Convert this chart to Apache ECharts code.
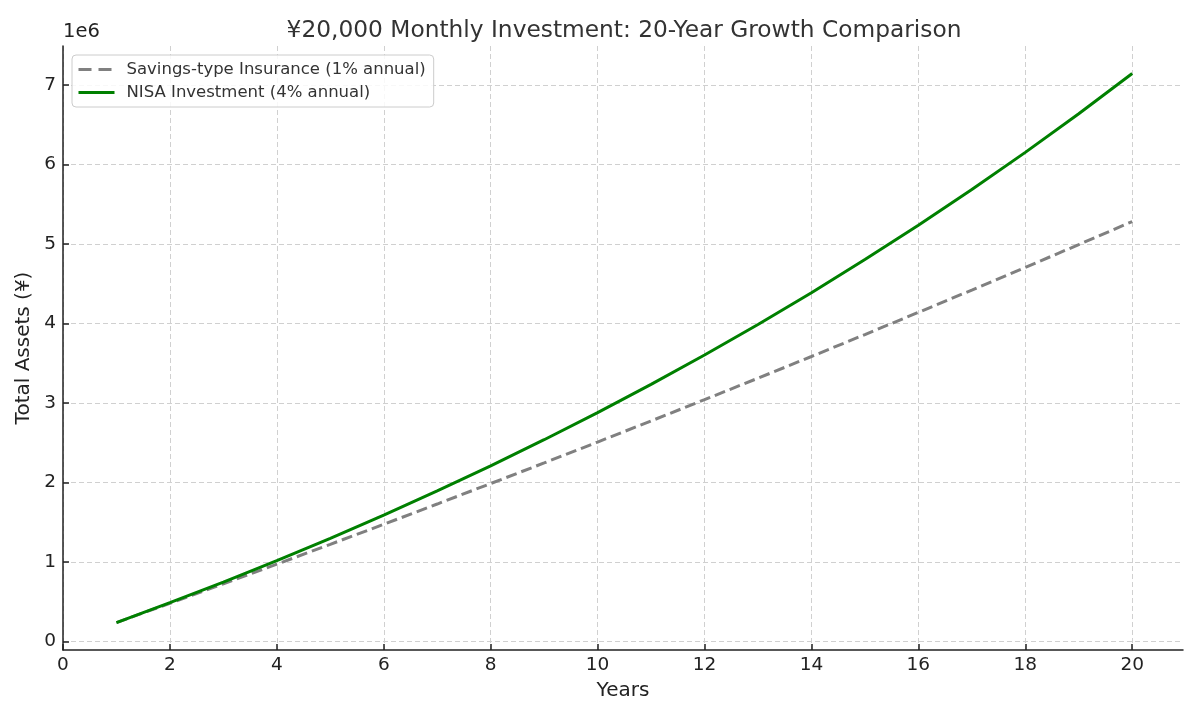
<!DOCTYPE html>
<html>
<head>
<meta charset="utf-8">
<script src="https://cdn.jsdelivr.net/npm/echarts@6/dist/echarts.min.js"></script>
<style>
html,body{margin:0;padding:0;background:#fff;}
#chart{width:1200px;height:720px;}
</style>
</head>
<body>
<div id="chart"></div>
<script>
const titleText = '¥20,000 Monthly Investment: 20-Year Growth Comparison';
const years = [1,2,3,4,5,6,7,8,9,10,11,12,13,14,15,16,17,18,19,20];
const savingsName = 'Savings-type Insurance (1% annual)';
const nisaName = 'NISA Investment (4% annual)';
const savings = [240000,482000,727000,974000,1224000,1476000,1731000,1989000,2248000,2511000,2776000,3044000,3314000,3587000,3863000,4142000,4423000,4708000,4995000,5285000];
const nisa = [240000,490000,749000,1019000,1300000,1592000,1896000,2211000,2540000,2881000,3237000,3606000,3990000,4390000,4806000,5238000,5687000,6155000,6641000,7148000];
const xTicks = [0,2,4,6,8,10,12,14,16,18,20];
const yTicks = [0,1000000,2000000,3000000,4000000,5000000,6000000,7000000];

const font = 'DejaVu Sans';
const gridLine = {show:true, lineStyle:{color:'#d0d0d0', width:1, type:[5,3]}};
const hiddenSymbol = {color:'rgba(0,0,0,0)', borderColor:'rgba(0,0,0,0)', borderWidth:0, opacity:0};

const chart = echarts.init(document.getElementById('chart'), null, {renderer:'canvas'});
chart.setOption({
  animation:false,
  backgroundColor:'#ffffff',
  textStyle:{fontFamily:font},
  title:{
    text:titleText, left:619, top:14, textAlign:'center',
    textStyle:{fontFamily:font, fontSize:23.3, fontWeight:'normal', color:'#333333'}
  },
  legend:{
    orient:'vertical', left:72, top:55,
    padding:[6,8,6,5], itemGap:6, itemWidth:36, itemHeight:18,
    backgroundColor:'rgba(255,255,255,0.85)', borderColor:'#cccccc', borderWidth:1, borderRadius:4,
    textStyle:{fontFamily:font, fontSize:16.5, color:'#333333', padding:[0,0,0,7]},
    itemStyle:hiddenSymbol,
    data:[
      {name:savingsName, itemStyle:hiddenSymbol, lineStyle:{color:'#808080', width:3, type:[13,7]}},
      {name:nisaName, itemStyle:hiddenSymbol, lineStyle:{color:'#008000', width:3, type:'solid'}}
    ]
  },
  graphic:[{
    type:'text', left:63, top:22,
    style:{text:'1e6', font:'19.5px "DejaVu Sans"', fill:'#222222'}
  }],
  grid:{left:63, right:17, top:46, bottom:70, containLabel:false},
  xAxis:{
    type:'value', min:0, max:20.95,
    name:'Years', nameLocation:'middle', nameGap:31,
    nameTextStyle:{fontFamily:font, fontSize:20, color:'#222222'},
    axisLine:{show:true, onZero:false, lineStyle:{color:'#222222', width:1.5}},
    axisTick:{show:true, inside:true, length:6, lineStyle:{color:'#222222', width:1.5}, customValues:xTicks},
    axisLabel:{fontFamily:font, fontSize:18.5, color:'#222222', margin:6, customValues:xTicks},
    splitLine:gridLine
  },
  yAxis:{
    type:'value', min:-105387, max:7493125,
    name:'Total Assets (¥)', nameLocation:'middle', nameGap:26, nameRotate:90,
    nameTextStyle:{fontFamily:font, fontSize:20, color:'#222222'},
    axisLine:{show:true, onZero:false, lineStyle:{color:'#222222', width:1.5}},
    axisTick:{show:true, inside:true, length:6, lineStyle:{color:'#222222', width:1.5}, customValues:yTicks},
    axisLabel:{fontFamily:font, fontSize:18.5, color:'#222222', margin:7, customValues:yTicks,
      formatter:function(v){return String(Math.round(v/1e6));}},
    splitLine:gridLine
  },
  series:[
    {
      name:savingsName, type:'line', symbol:'none', smooth:false,
      data:years.map((y,i)=>[y, savings[i]]),
      lineStyle:{color:'#808080', width:3, type:[11,5]},
      itemStyle:{color:'#808080'}, z:2
    },
    {
      name:nisaName, type:'line', symbol:'none', smooth:false,
      data:years.map((y,i)=>[y, nisa[i]]),
      lineStyle:{color:'#008000', width:3},
      itemStyle:{color:'#008000'}, z:3
    }
  ]
});
</script>
</body>
</html>
